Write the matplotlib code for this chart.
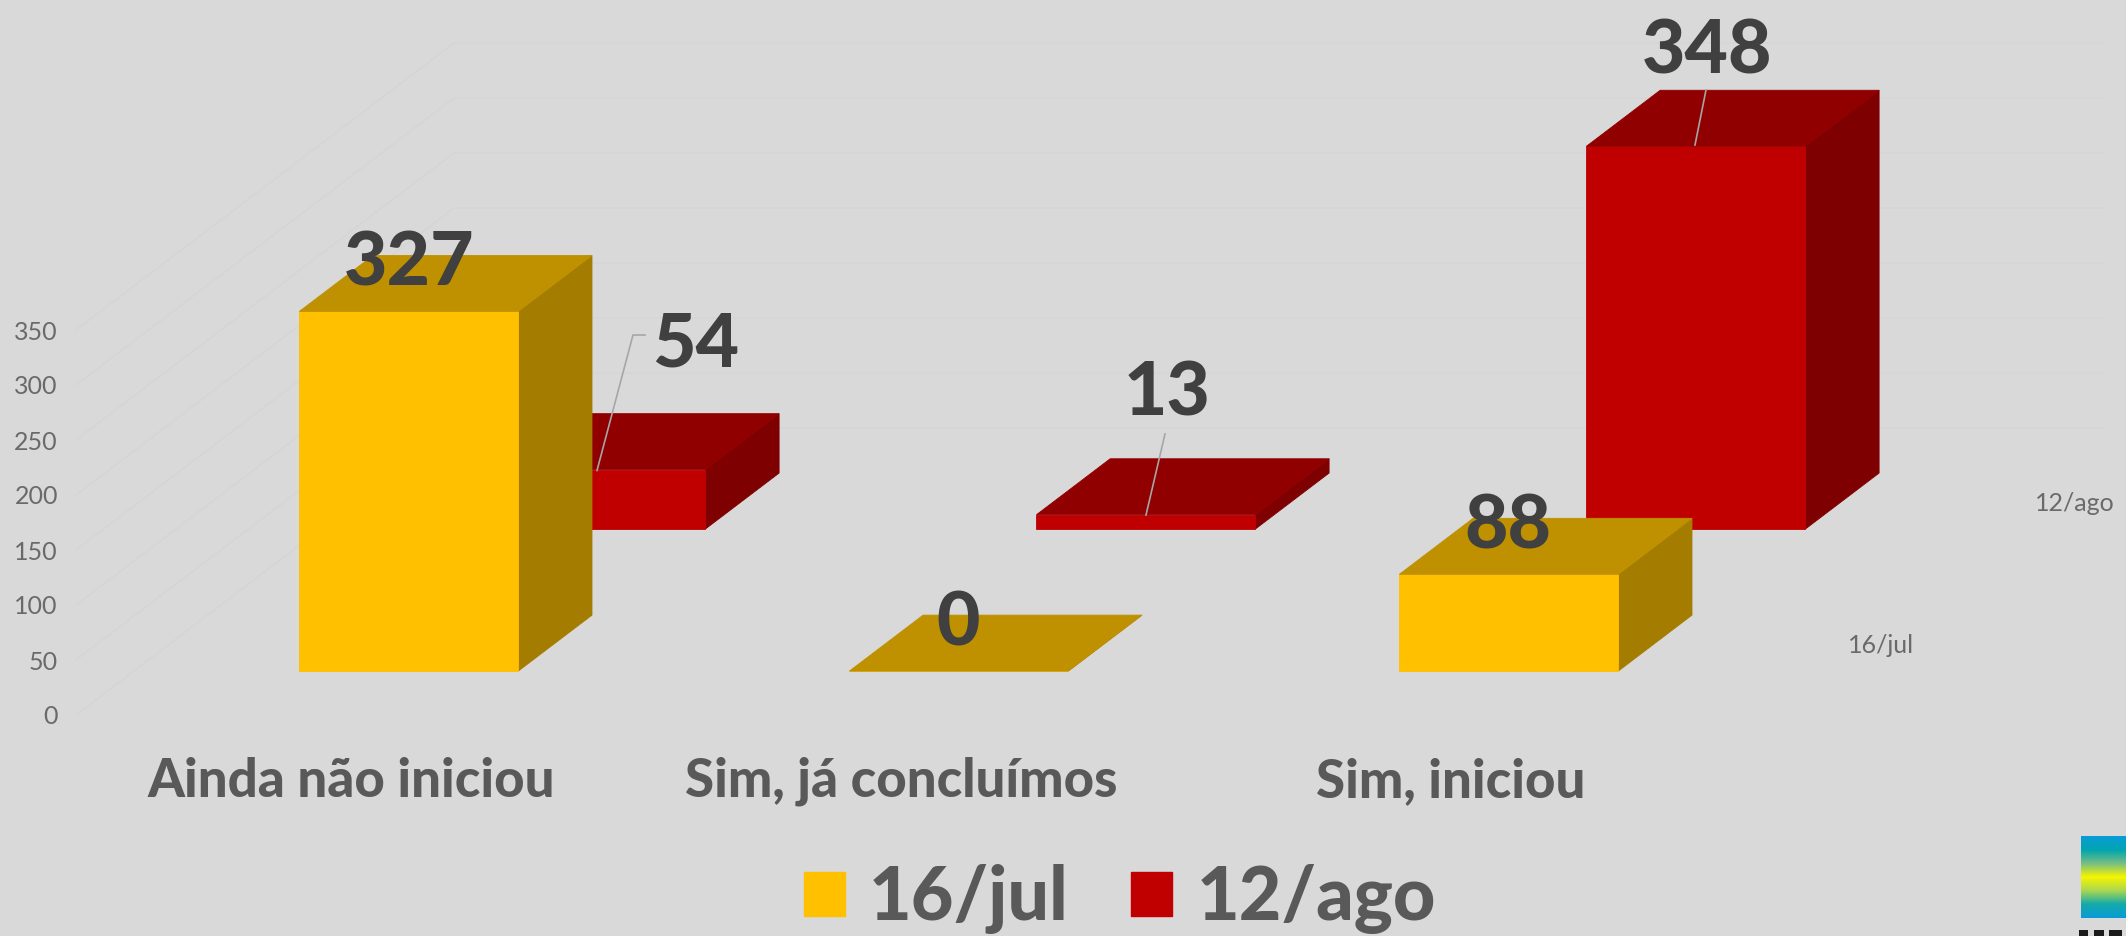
import numpy as np
import matplotlib
matplotlib.use("Agg")
import matplotlib.pyplot as plt
from matplotlib.patches import Polygon, Patch, Rectangle

plt.rcParams["font.family"] = ["Lato", "DejaVu Sans"]

categories = ["Ainda não iniciou", "Sim, já concluímos", "Sim, iniciou"]
series_names = ["16/jul", "12/ago"]
jul_values = [327, 0, 88]
ago_values = [54, 13, 348]
y_ticks = [0, 50, 100, 150, 200, 250, 300, 350]

BG = "#d9d9d9"
W, H = 2126, 936
PX_PER_UNIT = 1.10
PX_PER_CAT = 550.0
FLOOR_DX = 378 / PX_PER_CAT      # category units for full floor depth
FLOOR_DY = 287 / PX_PER_UNIT     # value units for full floor depth
BAR_W = 0.398
BAR_DEPTH = 0.195
Z = [0.153, 0.648]
STYLE = [("#ffc000", "#bf9000", "#a37c00"), ("#c00000", "#900000", "#7f0000")]

fig = plt.figure(figsize=(W / 100, H / 100), dpi=100, facecolor=BG)
ax = fig.add_axes([76 / W, (H - 715) / H, (2100 - 76) / W, 715 / H], facecolor="none")
ax.set_xlim(-0.5, -0.5 + 2024 / PX_PER_CAT)
ax.set_ylim(0, 715 / PX_PER_UNIT)
for s in ax.spines.values():
    s.set_visible(False)


def proj(x, z, v):
    return x + z * FLOOR_DX, v + z * FLOOR_DY


# wall grid
for t in y_ticks:
    xs, ys = zip(proj(-0.5, 0, t), proj(-0.5, 1, t), proj(2.5, 1, t))
    ax.plot(xs, ys, color="#d5d5d5", lw=1.0, zorder=1, clip_on=False)


def bar(i, s, v):
    x0, x1 = i - BAR_W / 2, i + BAR_W / 2
    z0, z1 = Z[s], Z[s] + BAR_DEPTH
    front, top, side = STYLE[s]
    zo = 3 + s * -1
    faces = [
        (side, [proj(x1, z0, 0), proj(x1, z1, 0), proj(x1, z1, v), proj(x1, z0, v)]),
        (front, [proj(x0, z0, 0), proj(x1, z0, 0), proj(x1, z0, v), proj(x0, z0, v)]),
        (top, [proj(x0, z0, v), proj(x1, z0, v), proj(x1, z1, v), proj(x0, z1, v)]),
    ]
    for c, pts in faces:
        ax.add_patch(Polygon(pts, closed=True, facecolor=c, edgecolor=c, lw=0.6, zorder=zo))


for i, v in enumerate(ago_values):
    bar(i, 1, v)
for i, v in enumerate(jul_values):
    bar(i, 0, v)

# axis ticks
ax.set_yticks(y_ticks)
ax.set_xticks(range(3))
ax.set_xticklabels(categories, fontsize=38, fontweight="black", color="#595959")
ax.tick_params(axis="x", length=0, pad=30)
ax.tick_params(axis="y", length=0, pad=13, labelsize=18, labelcolor="#6a6a6a")

# series names on the depth axis
for s, name in enumerate(series_names):
    px, py = proj(2.5, Z[s] + BAR_DEPTH / 2, 0)
    ax.annotate(name, (px, py), xytext=(27 * .72, -2), textcoords="offset points",
                fontsize=18, color="#6a6a6a", ha="left", va="center")

# data labels: offsets in points from the top-front centre of each bar
LBL = dict(fontsize=54, fontweight="black", color="#404040", ha="center", va="center", zorder=10)


def top_center(i, s, v):
    return proj(i, Z[s], v)


offsets_jul = [(0, 34), (-0.5, 34), (-0.5, 34)]
offsets_ago = [(72, 90), (15, 87), (8, 68)]
for i, v in enumerate(jul_values):
    ax.annotate(str(v), top_center(i, 0, v), xytext=offsets_jul[i], textcoords="offset points", **LBL)
for i, v in enumerate(ago_values):
    ax.annotate(str(v), top_center(i, 1, v), xytext=offsets_ago[i], textcoords="offset points", **LBL)

# leader lines
for pts in [[(597, 470.5), (633, 335), (645, 335)], [(1146, 515), (1165, 434)], [(1695, 145), (1706, 90)]]:
    fx, fy = zip(*[(px / W, 1 - py / H) for px, py in pts])
    fig.add_artist(plt.Line2D(fx, fy, color="#a6a6a6", lw=1.2, zorder=9))

# legend
handles = [Patch(facecolor=STYLE[i][0], edgecolor=STYLE[i][0]) for i in range(2)]
fig.legend(handles, series_names, loc="center", bbox_to_anchor=(1120 / W, 1 - 899 / H), ncol=2,
           frameon=False, handlelength=0.55, handleheight=0.55, handletextpad=0.33, columnspacing=0.85,
           prop={"family": "Lato", "weight": "black", "size": 53}, labelcolor="#595959",
           borderpad=0, borderaxespad=0)

# logo, cropped at the picture edge
logo = fig.add_axes([2081 / W, 1 - 918 / H, 45 / W, 82 / H])
logo.set_axis_off()
stops = np.array([[10, 155, 214], [0, 166, 176], [120, 190, 130], [247, 245, 0],
                  [170, 215, 80], [20, 170, 170], [10, 155, 214]]) / 255
g = np.stack([np.interp(np.linspace(0, 6, 82), np.arange(7), stops[:, k]) for k in range(3)], axis=1)
logo.imshow(g[:, None, :], aspect="auto")
for x0, x1 in [(2079, 2088), (2094, 2104), (2109, 2122)]:
    fig.add_artist(Rectangle((x0 / W, 0), (x1 - x0) / W, 6 / H, transform=fig.transFigure,
                             facecolor="#1a1a1a", edgecolor="none"))

fig.savefig("out.png", dpi=100, facecolor=BG)
